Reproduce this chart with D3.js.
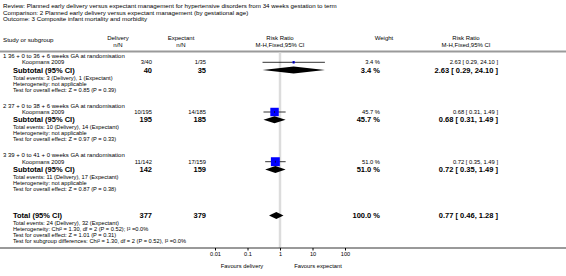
<!DOCTYPE html>
<html>
<head>
<meta charset="utf-8">
<script src="https://cdn.jsdelivr.net/npm/d3@7"></script>
<style>
  body { margin: 0; background: #fff; }
  svg { font-family: "Liberation Sans", Arial, sans-serif; display: block; }
</style>
</head>
<body>
<div id="forest-chart"></div>
<script>
// Composite infant mortality and morbidity - forest plot

const titleLines = [
  "Review:   Planned early delivery versus expectant management for hypertensive disorders from 34 weeks gestation to term",
  "Comparison:   2 Planned early delivery versus expectant management (by gestational age)",
  "Outcome:   3 Composite infant mortality and morbidity"
];

const subgroupLabels = [
  "1 36 + 0 to 36 + 6 weeks GA at randomisation",
  "2 37 + 0 to 38 + 6 weeks GA at randomisation",
  "3 39 + 0 to 41 + 0 weeks GA at randomisation"
];
const studyNames = ["Koopmans 2009", "Koopmans 2009", "Koopmans 2009"];
const deliveryEvents = [3, 10, 11];
const deliveryTotal = [40, 195, 142];
const expectantEvents = [1, 14, 17];
const expectantTotal = [35, 185, 159];
const weights = [3.4, 45.7, 51.0];
const riskRatio = [2.63, 0.68, 0.72];
const ciLow = [0.29, 0.31, 0.35];
const ciHigh = [24.10, 1.49, 1.49];
const overallZ = ["Z = 0.85 (P = 0.39)", "Z = 0.97 (P = 0.33)", "Z = 0.87 (P = 0.38)"];

const totalDelivery = 377, totalExpectant = 379;
const totalRR = 0.77, totalLow = 0.46, totalHigh = 1.28;
const totalInfo = [
  "Total events: 24 (Delivery), 32 (Expectant)",
  "Heterogeneity: Chi² = 1.30, df = 2 (P = 0.52); I² =0.0%",
  "Test for overall effect: Z = 1.01 (P = 0.31)",
  "Test for subgroup differences: Chi² = 1.30, df = 2 (P = 0.52), I² =0.0%"
];

const tickValues = [0.01, 0.1, 1, 10, 100];
const tickLabels = ["0.01", "0.1", "1", "10", "100"];

(function () {
  const W = 566, H = 276;
  const svg = d3.select("#forest-chart").append("svg")
      .attr("width", W).attr("height", H);

  const fmt = d3.format(".2f");
  const ciText = (r, l, h) => fmt(r) + " [ " + fmt(l) + ", " + fmt(h) + " ]";

  // log scale for the plot column
  const x = d3.scaleLog().domain([0.01, 100]).range([215, 345]);
  const axisY = 248;
  const headLineY = 51.5;

  const text = (xx, yy, s, size, opts) => {
    opts = opts || {};
    return svg.append("text")
      .attr("x", xx).attr("y", yy)
      .attr("font-size", size + "px")
      .attr("font-weight", opts.bold ? "bold" : null)
      .attr("text-anchor", opts.anchor || "start")
      .attr("fill", "#000")
      .text(s);
  };

  // titles
  titleLines.forEach((s, i) => text(3, 8 + i * 6.7, s, 6.2));

  // column headers
  text(3, 42, "Study or subgroup", 6.2);
  text(118, 40, "Delivery", 6, { anchor: "middle" });
  text(118, 46.5, "n/N", 6, { anchor: "middle" });
  text(181, 40, "Expectant", 6, { anchor: "middle" });
  text(181, 46.5, "n/N", 6, { anchor: "middle" });
  text(280, 40, "Risk Ratio", 6, { anchor: "middle" });
  text(280, 46.5, "M-H,Fixed,95% CI", 6, { anchor: "middle" });
  text(384, 40, "Weight", 6, { anchor: "middle" });
  text(466, 40, "Risk Ratio", 6, { anchor: "middle" });
  text(466, 46.5, "M-H,Fixed,95% CI", 6, { anchor: "middle" });

  svg.append("line")
    .attr("x1", 0).attr("x2", W).attr("y1", headLineY).attr("y2", headLineY)
    .attr("stroke", "#9a9a9a").attr("stroke-width", 2);

  // null line
  svg.append("line")
    .attr("x1", x(1)).attr("x2", x(1)).attr("y1", headLineY + 1).attr("y2", axisY)
    .attr("stroke", "#dcdcdc").attr("stroke-width", 2.5);

  const side = d => 12.5 * Math.sqrt(d / 100);
  const diamond = (yy, r, l, h, hh) => {
    const p = d3.path();
    p.moveTo(x(l), yy); p.lineTo(x(r), yy - hh); p.lineTo(x(h), yy); p.lineTo(x(r), yy + hh); p.closePath();
    svg.append("path").attr("d", p.toString()).attr("fill", "#000");
  };

  subgroupLabels.forEach((lab, i) => {
    const y0 = 58 + i * 49.7;
    text(3, y0, lab, 6);

    // study row
    const ys = y0 + 6.3;
    text(22, ys, studyNames[i], 5.8);
    text(152, ys, deliveryEvents[i] + "/" + deliveryTotal[i], 5.8, { anchor: "end" });
    text(206, ys, expectantEvents[i] + "/" + expectantTotal[i], 5.8, { anchor: "end" });
    text(380, ys, weights[i].toFixed(1) + " %", 5.8, { anchor: "end" });
    text(498, ys, ciText(riskRatio[i], ciLow[i], ciHigh[i]), 5.8, { anchor: "end" });

    const yc = ys - 2;
    svg.append("line")
      .attr("x1", x(ciLow[i])).attr("x2", x(ciHigh[i]))
      .attr("y1", yc).attr("y2", yc)
      .attr("stroke", "#000").attr("stroke-width", 0.8);
    const s = side(weights[i]);
    svg.append("rect")
      .attr("x", x(riskRatio[i]) - s / 2).attr("y", yc - s / 2)
      .attr("width", s).attr("height", s)
      .attr("fill", "#0000ff");
    svg.append("line")
      .attr("x1", x(riskRatio[i])).attr("x2", x(riskRatio[i]))
      .attr("y1", yc - 1).attr("y2", yc + 1)
      .attr("stroke", "#000").attr("stroke-width", 0.6);

    // subtotal row
    const yt = y0 + 14.5;
    text(13, yt, "Subtotal (95% CI)", 7.5, { bold: true });
    text(152, yt, deliveryTotal[i], 7.5, { bold: true, anchor: "end" });
    text(206, yt, expectantTotal[i], 7.5, { bold: true, anchor: "end" });
    text(380, yt, weights[i].toFixed(1) + " %", 7.5, { bold: true, anchor: "end" });
    text(498, yt, ciText(riskRatio[i], ciLow[i], ciHigh[i]), 7.5, { bold: true, anchor: "end" });
    diamond(yt - 2.5, riskRatio[i], ciLow[i], ciHigh[i], 3.5);

    text(13, yt + 7, "Total events: " + deliveryEvents[i] + " (Delivery), " + expectantEvents[i] + " (Expectant)", 5.7);
    text(13, yt + 13, "Heterogeneity: not applicable", 5.7);
    text(13, yt + 19, "Test for overall effect: " + overallZ[i], 5.7);
  });

  // total
  const yT = 218;
  text(13, yT, "Total (95% CI)", 7.5, { bold: true });
  text(152, yT, totalDelivery, 7.5, { bold: true, anchor: "end" });
  text(206, yT, totalExpectant, 7.5, { bold: true, anchor: "end" });
  text(380, yT, "100.0 %", 7.5, { bold: true, anchor: "end" });
  text(498, yT, ciText(totalRR, totalLow, totalHigh), 7.5, { bold: true, anchor: "end" });
  diamond(yT - 2.5, totalRR, totalLow, totalHigh, 3.5);
  totalInfo.forEach((s, i) => text(13, yT + 6.5 + i * 6, s, 5.7));

  // axis
  svg.append("line")
    .attr("x1", 0).attr("x2", W).attr("y1", axisY).attr("y2", axisY)
    .attr("stroke", "#000").attr("stroke-width", 0.8);

  const axis = d3.axisBottom(x)
    .tickValues(tickValues)
    .tickFormat((d, i) => tickLabels[i])
    .tickSize(2.5).tickPadding(2);
  const g = svg.append("g")
    .attr("transform", "translate(0," + axisY + ")")
    .call(axis);
  g.select(".domain").remove();
  g.selectAll("text").attr("font-size", "5.6px").attr("font-family", "Liberation Sans, Arial, sans-serif");

  text(242, 268, "Favours delivery", 5.8, { anchor: "middle" });
  text(318, 268, "Favours expectant", 5.8, { anchor: "middle" });
})();
</script>
</body>
</html>
